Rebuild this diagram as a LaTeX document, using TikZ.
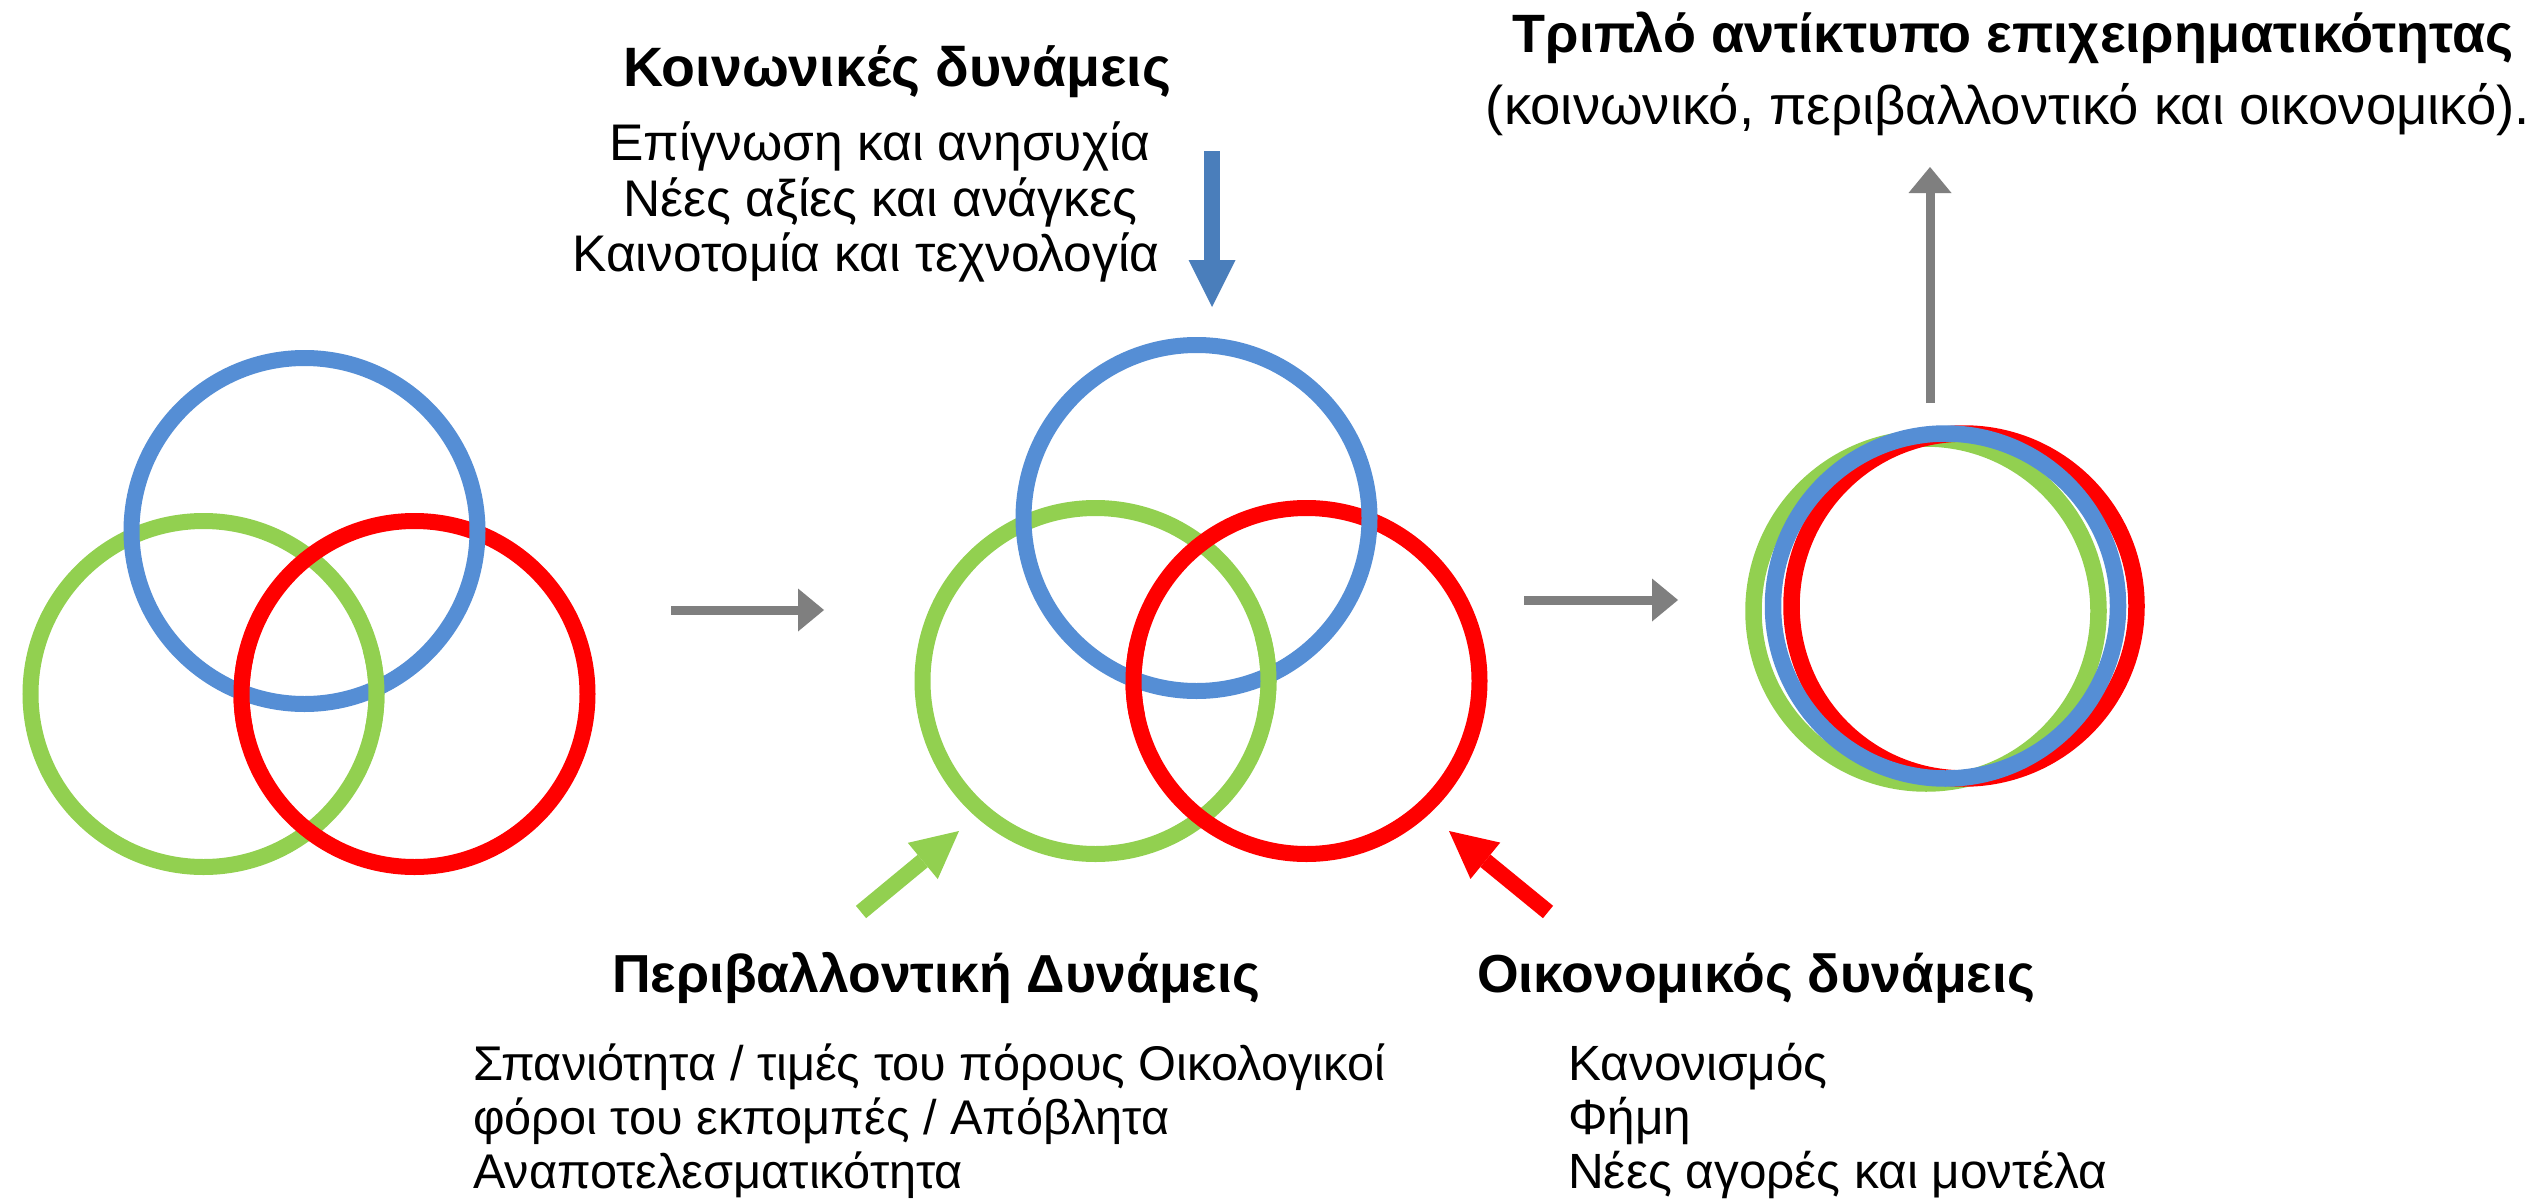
\documentclass[tikz,border=0pt]{standalone}
\usepackage{fontspec}
\setmainfont{Liberation Sans}
\usetikzlibrary{arrows.meta}
\definecolor{cblue}{HTML}{558ED5}
\definecolor{cgreen}{HTML}{92D050}
\definecolor{cred}{HTML}{FF0000}
\definecolor{ablue}{HTML}{4A7EBB}
\definecolor{cgray}{HTML}{7F7F7F}
\begin{document}
\begin{tikzpicture}[x=1pt,y=-1pt,
  ring/.style={line width=16pt},
  ringR/.style={line width=16.5pt},
  grayarrow/.style={draw=cgray, line width=9pt, -{Triangle[width=43pt,length=26pt,line width=0pt]}},
  forcearrow/.style={line width=16pt, -{Triangle[width=47pt,length=47pt,line width=0pt]}},
  title/.style={font=\fontsize{53.5}{60}\selectfont\bfseries, anchor=base, inner sep=0pt},
  body/.style={font=\fontsize{49.5}{56}\selectfont, anchor=base, inner sep=0pt},
  bodyw/.style={body, anchor=base west},
  socbody/.style={body, font=\fontsize{51.5}{56}\selectfont},
  envbody/.style={bodyw, font=\fontsize{48.7}{56}\selectfont},
]
\path[use as bounding box, fill=white] (0,0) rectangle (2530,1199);

% ---- left group
\coordinate (LB) at (304.5,531);
\coordinate (LG) at (203.5,694);
\coordinate (LR) at (414.5,694);
\draw[ring,cgreen] (LG) circle[radius=173];
\draw[ring,cred] (LR) circle[radius=173];
\draw[ring,cblue] (LB) circle[radius=173];
\draw[ring,cgreen] ([shift={(-15:173)}]LG) arc[start angle=-15,end angle=12,radius=173];
\draw[ring,cred] ([shift={(168:173)}]LR) arc[start angle=168,end angle=193,radius=173];

% ---- middle group
\coordinate (MB) at (1196.5,518);
\coordinate (MG) at (1095.5,681);
\coordinate (MR) at (1306.5,681);
\draw[ring,cgreen] (MG) circle[radius=173];
\draw[ring,cred] (MR) circle[radius=173];
\draw[ring,cblue] (MB) circle[radius=173];
\draw[ring,cgreen] ([shift={(-15:173)}]MG) arc[start angle=-15,end angle=12,radius=173];
\draw[ring,cred] ([shift={(168:173)}]MR) arc[start angle=168,end angle=193,radius=173];

% ---- right group
\coordinate (RG) at (1926,611);
\coordinate (RB) at (1945.5,606);
\coordinate (RR) at (1964,606);
\draw[ringR,cgreen] (RG) circle[radius=172.5];
\draw[ringR,cred] (RR) circle[radius=172.5];
\draw[ringR,cblue] (RB) circle[radius=172.5];

% ---- gray arrows
\coordinate (a1s) at (671,610);
\coordinate (a1e) at (824,610);
\coordinate (a2s) at (1524,600);
\coordinate (a2e) at (1678,600);
\coordinate (a3s) at (1930,403);
\coordinate (a3e) at (1930,167);
\draw[grayarrow] (a1s) -- (a1e);
\draw[grayarrow] (a2s) -- (a2e);
\draw[grayarrow] (a3s) -- (a3e);

% ---- force arrows
\coordinate (bs) at (1212,151);
\coordinate (be) at (1212,307);
\coordinate (gs) at (861,912);
\coordinate (ge) at (959,831);
\coordinate (rs) at (1548,912);
\coordinate (re) at (1449,831);
\draw[forcearrow,ablue] (bs) -- (be);
\draw[forcearrow,cgreen] (gs) -- (ge);
\draw[forcearrow,cred] (rs) -- (re);

% ---- texts
\node[title, font=\fontsize{55.5}{60}\selectfont\bfseries] (soc) at (897,87) {Κοινωνικές δυνάμεις};
\node[socbody] (soc1) at (880,160) {Επίγνωση και ανησυχία};
\node[socbody] (soc2) at (880,216) {Νέες αξίες και ανάγκες};
\node[socbody] (soc3) at (866,271) {Καινοτομία και τεχνολογία};

\node[title, font=\fontsize{54}{60}\selectfont\bfseries] (tri) at (2013,53) {Τριπλό αντίκτυπο επιχειρηματικότητας};
\node[body, font=\fontsize{54.5}{60}\selectfont] (tri2) at (2008,124) {(κοινωνικό, περιβαλλοντικό και οικονομικό).};

\node[title] (env) at (936,992) {Περιβαλλοντική Δυνάμεις};
\node[envbody] (env1) at (473,1080) {Σπανιότητα / τιμές του πόρους Οικολογικοί};
\node[envbody] (env2) at (473,1134) {φόροι του εκπομπές / Απόβλητα};
\node[envbody] (env3) at (473,1188) {Αναποτελεσματικότητα};

\node[title] (eco) at (1756,992) {Οικονομικός δυνάμεις};
\node[bodyw] (eco1) at (1568,1080) {Κανονισμός};
\node[bodyw] (eco2) at (1568,1134) {Φήμη};
\node[bodyw] (eco3) at (1568,1188) {Νέες αγορές και μοντέλα};
\end{tikzpicture}
\end{document}
